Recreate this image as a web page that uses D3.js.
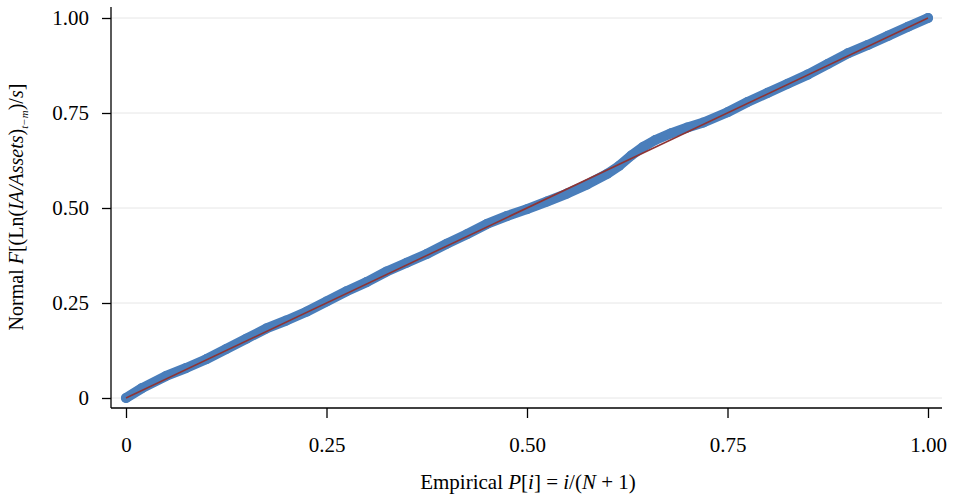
<!DOCTYPE html>
<html>
<head>
<meta charset="utf-8">
<script src="https://cdn.jsdelivr.net/npm/d3@7"></script>
<style>
  body { margin: 0; background: #fff; }
  svg { display: block; font-family: "Liberation Serif", "Times New Roman", serif; }
</style>
</head>
<body>
<div id="chart"></div>
<script>
// P-P plot points (empirical P[i] vs normal F)
const empirical = [0.000, 0.020, 0.050, 0.075, 0.100, 0.125, 0.150, 0.175, 0.200, 0.225,
  0.250, 0.275, 0.300, 0.325, 0.350, 0.375, 0.400, 0.425, 0.450, 0.475,
  0.500, 0.525, 0.550, 0.575, 0.600, 0.615, 0.630, 0.645, 0.660, 0.680,
  0.700, 0.720, 0.750, 0.775, 0.800, 0.825, 0.850, 0.875, 0.900, 0.925,
  0.950, 0.975, 1.000];
const normalF = [0.000, 0.026, 0.058, 0.079, 0.102, 0.129, 0.156, 0.183, 0.204, 0.227,
  0.254, 0.281, 0.305, 0.333, 0.356, 0.379, 0.406, 0.431, 0.458, 0.479,
  0.497, 0.517, 0.538, 0.562, 0.590, 0.611, 0.638, 0.661, 0.679, 0.697,
  0.712, 0.725, 0.752, 0.779, 0.803, 0.827, 0.851, 0.879, 0.907, 0.929,
  0.953, 0.977, 1.000];
const yTicks = [0, 0.25, 0.5, 0.75, 1];
const yTickLabels = ['0', '0.25', '0.50', '0.75', '1.00'];
const xTicks = [0, 0.25, 0.5, 0.75, 1];
const xTickLabels = ['0', '0.25', '0.50', '0.75', '1.00'];

const width = 957, height = 499;
const points = empirical.map((p, i) => ({ p, f: normalF[i] }));

const x = d3.scaleLinear().domain([0, 1]).range([126, 928]);
const y = d3.scaleLinear().domain([0, 1]).range([398, 18]);

const svg = d3.select('#chart').append('svg')
    .attr('width', width)
    .attr('height', height);

// gridlines
svg.append('g')
    .selectAll('line')
    .data(yTicks)
    .join('line')
    .attr('x1', 111).attr('x2', 942)
    .attr('y1', d => y(d)).attr('y2', d => y(d))
    .attr('stroke', '#e6e6e6')
    .attr('stroke-width', 1);

// axes
const yAxis = d3.axisLeft(y).tickValues(yTicks)
    .tickFormat((d, i) => yTickLabels[i]).tickSize(9).tickPadding(13);
const xAxis = d3.axisBottom(x).tickValues(xTicks)
    .tickFormat((d, i) => xTickLabels[i]).tickSize(10).tickPadding(14);

const gy = svg.append('g').attr('transform', 'translate(111,0)').call(yAxis);
const gx = svg.append('g').attr('transform', 'translate(0,408)').call(xAxis);
gy.select('.domain').attr('d', 'M0,7V408');
gx.select('.domain').attr('d', 'M111,0H942');
[gx, gy].forEach(g => {
    g.selectAll('.domain, .tick line').attr('stroke', '#000').attr('stroke-width', 1.3);
    g.selectAll('text').attr('font-family', '"Liberation Serif", serif')
        .attr('font-size', 21).attr('fill', '#000');
});
gx.selectAll('.tick text').attr('dy', 0).attr('y', 44);

// data band
svg.append('path')
    .datum(points)
    .attr('fill', 'none')
    .attr('stroke', '#4a7ebb')
    .attr('stroke-width', 10)
    .attr('stroke-linejoin', 'round')
    .attr('stroke-linecap', 'round')
    .attr('d', d3.line().x(d => x(d.p)).y(d => y(d.f)));
svg.append('g')
    .selectAll('circle')
    .data(points)
    .join('circle')
    .attr('cx', d => x(d.p))
    .attr('cy', d => y(d.f))
    .attr('r', 5)
    .attr('fill', '#4a7ebb');

// reference diagonal
svg.append('line')
    .attr('x1', x(0)).attr('y1', y(0))
    .attr('x2', x(1)).attr('y2', y(1))
    .attr('stroke', '#8e3434')
    .attr('stroke-width', 1.6);

// x title
const xt = svg.append('text')
    .attr('x', 528).attr('y', 489)
    .attr('text-anchor', 'middle')
    .attr('font-size', 21);
xt.append('tspan').text('Empirical ');
xt.append('tspan').attr('font-style', 'italic').text('P');
xt.append('tspan').text('[');
xt.append('tspan').attr('font-style', 'italic').text('i');
xt.append('tspan').text('] = ');
xt.append('tspan').attr('font-style', 'italic').text('i');
xt.append('tspan').text('/(');
xt.append('tspan').attr('font-style', 'italic').text('N');
xt.append('tspan').text(' + 1)');

// y title
const yt = svg.append('text')
    .attr('transform', 'translate(23,207) rotate(-90)')
    .attr('text-anchor', 'middle')
    .attr('font-size', 20);
yt.append('tspan').text('Normal ');
yt.append('tspan').attr('font-style', 'italic').text('F');
yt.append('tspan').text('[(Ln(');
yt.append('tspan').attr('font-style', 'italic').text('IA/Assets');
yt.append('tspan').text(')');
yt.append('tspan').attr('font-style', 'italic').attr('font-size', 11).attr('dy', 5).text('t−m');
yt.append('tspan').attr('dy', -5).text(')/');
yt.append('tspan').attr('font-style', 'italic').text('s');
yt.append('tspan').text(']');
</script>
</body>
</html>
